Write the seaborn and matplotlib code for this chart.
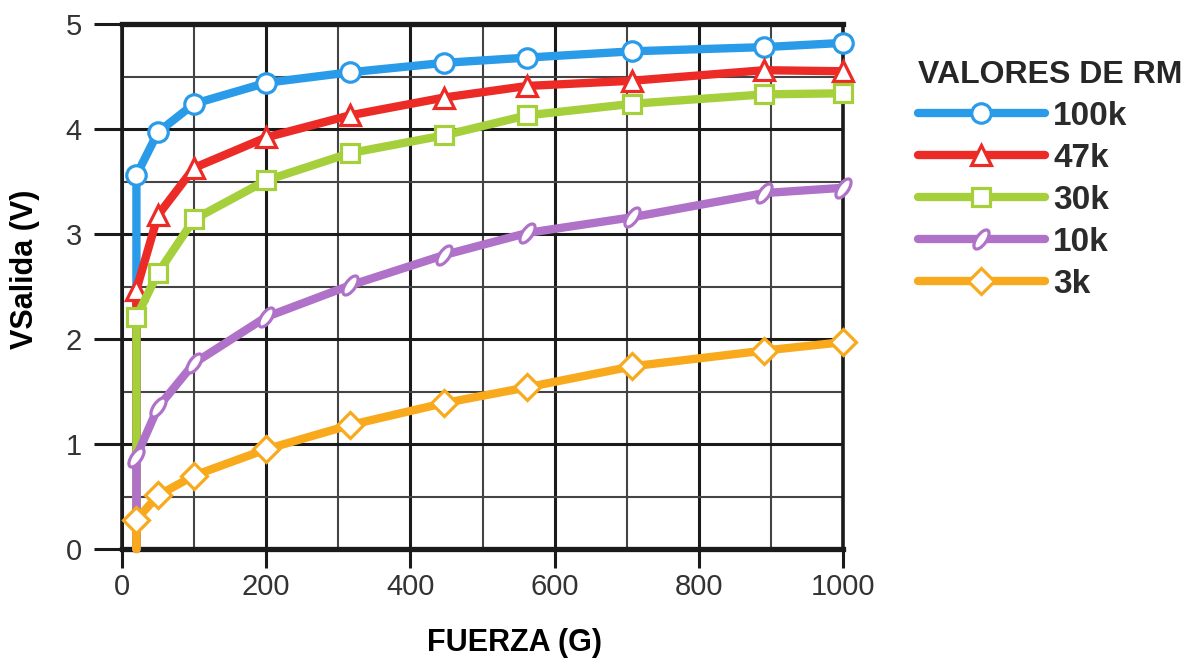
import matplotlib
matplotlib.use("Agg")
import matplotlib.pyplot as plt
from matplotlib.lines import Line2D
from matplotlib.markers import MarkerStyle
from matplotlib.transforms import Affine2D
from matplotlib.ticker import MultipleLocator
import seaborn as sns

# Force (g) at each measured point; every curve starts at 0 V at the first force
fuerza = [20, 50, 100, 200, 316, 447, 562, 708, 891, 1000]
fuerza_inicio = 20
v_inicio = 0.0

rm_labels = ["100k", "47k", "30k", "10k", "3k"]
v_100k = [3.56, 3.97, 4.24, 4.44, 4.54, 4.63, 4.68, 4.74, 4.78, 4.82]
v_47k = [2.47, 3.18, 3.63, 3.92, 4.13, 4.30, 4.41, 4.46, 4.56, 4.55]
v_30k = [2.21, 2.63, 3.14, 3.51, 3.77, 3.94, 4.13, 4.24, 4.33, 4.34]
v_10k = [0.88, 1.35, 1.77, 2.21, 2.51, 2.80, 3.01, 3.16, 3.39, 3.44]
v_3k = [0.28, 0.51, 0.70, 0.95, 1.18, 1.39, 1.54, 1.74, 1.89, 1.97]

x_ticks = [0, 200, 400, 600, 800, 1000]
y_ticks = [0, 1, 2, 3, 4, 5]

sns.set_theme(style="white")
plt.rcParams["font.family"] = ["Liberation Sans", "DejaVu Sans"]

colores = ["#2a9be8", "#ec2a26", "#a5d03c", "#b072c8", "#f8aa1c"]
slash = MarkerStyle("o", transform=Affine2D().scale(0.45, 1.0).rotate_deg(-35))
marcadores = ["o", "^", "s", slash, "D"]
tamanos = [14, 15, 13, 16, 13]
series = [v_100k, v_47k, v_30k, v_10k, v_3k]

fig = plt.figure(figsize=(11.94, 6.66), dpi=100)
ax = fig.add_axes([122 / 1194, 1 - 549 / 666, 721 / 1194, 525 / 666])

LW = 6.0
for vals, c, m, ms in zip(series, colores, marcadores, tamanos):
    xs = [fuerza_inicio] + fuerza
    ys = [v_inicio] + vals
    sns.lineplot(
        x=xs, y=ys, estimator=None, sort=False, ax=ax,
        color=c, lw=LW, marker=m, markersize=ms,
        markerfacecolor="white", markeredgecolor=c, markeredgewidth=2.3,
        markevery=list(range(1, len(xs))), clip_on=False, zorder=3,
    )

ax.set_xlim(0, 1000)
ax.set_ylim(0, 5)
ax.set_xticks(x_ticks)
ax.set_yticks(y_ticks)
ax.xaxis.set_minor_locator(MultipleLocator(100))
ax.yaxis.set_minor_locator(MultipleLocator(0.5))
ax.set_axisbelow(True)
ax.grid(which="major", color="#1a1a1a", lw=2.2)
ax.grid(which="minor", color="#444444", lw=1.5)
ax.tick_params(which="minor", length=0)
ax.tick_params(axis="x", which="major", length=14, width=2.2, color="#1a1a1a",
               pad=3, labelsize=21, labelcolor="#333333", bottom=True)
ax.tick_params(axis="y", which="major", length=20, width=2.2, color="#1a1a1a",
               pad=9, labelsize=21, labelcolor="#333333", left=True)

for side, w in [("bottom", 3.8), ("top", 3.8), ("left", 2.6), ("right", 2.6)]:
    ax.spines[side].set_visible(True)
    ax.spines[side].set_color("#1a1a1a")
    ax.spines[side].set_linewidth(w)

ax.set_xlabel("FUERZA (G)", fontsize=22, fontweight="bold", color="black")
ax.set_ylabel("VSalida (V)", fontsize=22, fontweight="bold", color="black")
ax.xaxis.set_label_coords(0.545, -0.15)
ax.yaxis.set_label_coords(-0.114, 0.533)

handles = [
    Line2D([], [], color=c, lw=LW, marker=m, markersize=ms,
           markerfacecolor="white", markeredgecolor=c, markeredgewidth=2.3)
    for c, m, ms in zip(colores, marcadores, tamanos)
]
leg = ax.legend(
    handles, rm_labels, title="VALORES DE RM", loc="upper left",
    bbox_to_anchor=(918 / 1194, 1 - 60 / 666), bbox_transform=fig.transFigure,
    frameon=False, borderpad=0, borderaxespad=0, numpoints=1,
    handlelength=3.8, handletextpad=0.25, labelspacing=0.33,
    prop={"size": 24, "weight": "bold"}, alignment="left",
)
leg.get_title().set_fontsize(23)
leg.get_title().set_fontweight("bold")
for t in leg.get_texts():
    t.set_color("#2b2b2b")

fig.savefig("out.png", dpi=100, facecolor="white")
